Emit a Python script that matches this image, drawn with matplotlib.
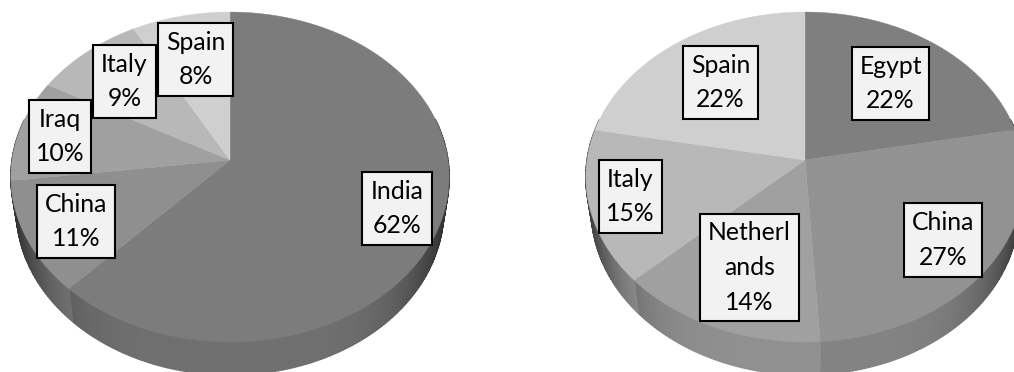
import math
import matplotlib
matplotlib.use("Agg")
import matplotlib.pyplot as plt
from matplotlib.patches import Rectangle

plt.rcParams["font.family"] = ["Lato", "DejaVu Sans"]

# ---- datos ----
left_names = ["India", "China", "Iraq", "Italy", "Spain"]
left_values = [62, 11, 10, 9, 8]
left_greys = ["#7c7c7c", "#8f8f8f", "#a0a0a0", "#b8b8b8", "#cfcfcf"]

right_names = ["Egypt", "China", "Netherl\nands", "Italy", "Spain"]
right_values = [22, 27, 14, 15, 22]
right_greys = ["#7f7f7f", "#929292", "#a0a0a0", "#b8b8b8", "#cfcfcf"]

# cajas de etiqueta: x0, y0, x1, y1 en pixeles
left_boxes = [(362, 172, 432, 245), (37, 185, 115, 258), (29, 100, 91, 173),
              (93, 45, 156, 118), (158, 23, 233, 96)]
right_boxes = [(852, 47, 929, 120), (904, 203, 982, 277), (700, 214, 799, 321),
               (599, 160, 662, 233), (683, 46, 758, 119)]

# perspectiva del disco
A0 = 218.0
F = 163.2
K = 0.103
APEX_Y = 160.0
DEPTH = 33.0
SHRINK = 0.975


def proyectar(cx, theta):
    # theta en radianes, 0 arriba y sentido horario
    x, y = math.sin(theta), math.cos(theta)
    w = 1 + K * y
    return cx + A0 * x / w, APEX_Y - F * y / w


def sombra(color, factor):
    g = int(color[1:3], 16) / 255 * factor
    return (g, g, g)


def pastel3d(ax, cx, values, greys):
    total = sum(values)
    start = 0.0
    caras = []
    for v, col in zip(values, greys):
        end = start + v / total * 2 * math.pi
        n = max(3, int((end - start) * 180 / math.pi))
        angs = [start + (end - start) * i / n for i in range(n + 1)]
        pts = [proyectar(cx, t) for t in angs]
        # pared lateral, solo la parte delantera
        for t0, t1, p0, p1 in zip(angs[:-1], angs[1:], pts[:-1], pts[1:]):
            if math.cos((t0 + t1) / 2) > 0.25:
                continue
            u = abs((p0[0] + p1[0]) / 2 - cx) / 219
            f = 0.9 - 0.55 * u ** 5
            q0 = (cx + (p0[0] - cx) * SHRINK, p0[1] + DEPTH)
            q1 = (cx + (p1[0] - cx) * SHRINK, p1[1] + DEPTH)
            xs = [p0[0], p1[0], q1[0], q0[0]]
            ys = [p0[1], p1[1], q1[1], q0[1]]
            ax.fill(xs, ys, color=sombra(col, f), lw=1.0, zorder=1)
        caras.append(([cx] + [p[0] for p in pts], [APEX_Y] + [p[1] for p in pts], col))
        start = end
    for xs, ys, col in caras:
        ax.fill(xs, ys, color=col, lw=0.3, zorder=2)


def etiquetas(ax, names, values, boxes):
    for name, v, (x0, y0, x1, y1) in zip(names, values, boxes):
        ax.add_patch(Rectangle((x0, y0), x1 - x0, y1 - y0, fc="#f2f2f2", ec="black",
                               lw=1.5, zorder=3))
        ax.text((x0 + x1) / 2, (y0 + y1) / 2, f"{name}\n{v}%", ha="center", va="center",
                fontsize=17.8, color="black", linespacing=1.62, zorder=4)


fig = plt.figure(figsize=(10.14, 3.72), dpi=100)
ax = fig.add_axes([0, 0, 1, 1])
ax.set_xlim(0, 1014)
ax.set_ylim(372, 0)
ax.axis("off")

pastel3d(ax, 230, left_values, left_greys)
pastel3d(ax, 805, right_values, right_greys)
etiquetas(ax, left_names, left_values, left_boxes)
etiquetas(ax, right_names, right_values, right_boxes)

fig.savefig("out.png", dpi=100)
